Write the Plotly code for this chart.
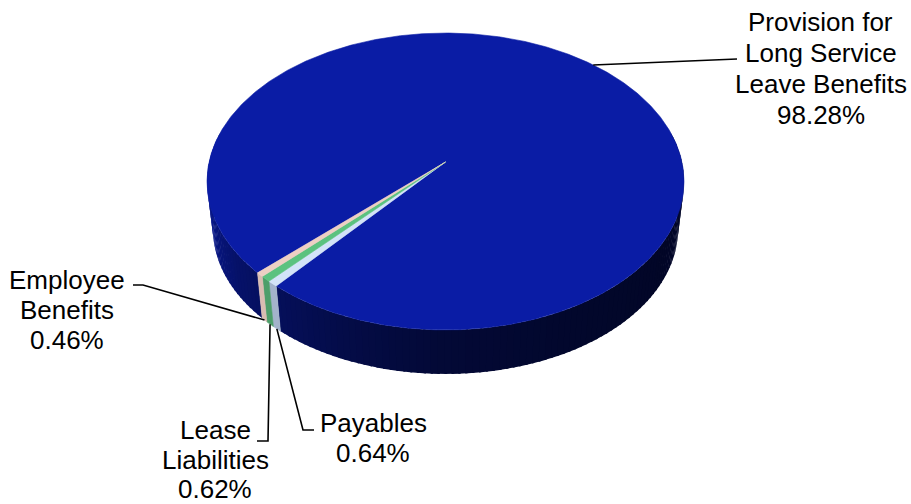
import numpy as np
import plotly.graph_objects as go

# ---------------- data ----------------
categories = ["Provision for Long Service Leave Benefits", "Payables",
              "Lease Liabilities", "Employee Benefits"]
label_lines = [["Provision for", "Long Service", "Leave Benefits"],
               ["Payables"],
               ["Lease", "Liabilities"],
               ["Employee", "Benefits"]]
values = [98.28, 0.64, 0.62, 0.46]

# ---------------- styles ----------------
top_colors = ["#0A1CA5", "#D3E3F8", "#5BC27F", "#EDCFC4"]
side_colors = [None, "#A3B3CB", "#4C9E6A", "#D8BCB2"]
FONT = "Liberation Sans, Arial, sans-serif"
FS = 26

# ---------------- geometry (pixel space) ----------------
CX, CY = 445.5, 162.0       # projected centre of the disc
A, B, K = 236.4, 145.9, 0.1313  # perspective ellipse parameters
S, YV = 0.975, 2090.0       # bottom face scale / vanishing point
START = 223.7               # start angle (deg, math convention), clockwise order


def proj_top(theta):
    t = np.radians(theta)
    u, v = np.cos(t), np.sin(t)
    w = 1 + K * v
    return CX + A * u / w, CY - B * v / w


def proj_bot(theta):
    x, y = proj_top(theta)
    return CX + S * (x - CX), YV + S * (y - YV)


def shade(theta):
    a = np.mod(theta - 170, 360) + 170
    f = np.interp(a, [170, 185, 200, 215, 235, 255, 270, 300, 330, 355, 370],
                  [0.95, 0.93, 0.78, 0.64, 0.52, 0.40, 0.33, 0.27, 0.24, 0.26, 0.27])
    r, g, b = 10, 28, 165
    return "rgb(%d,%d,%d)" % (r * f, g * f, b * f)


total = sum(values)
cum = np.concatenate([[0], np.cumsum(values)])
ranges = []  # CCW [lo, hi] for each slice
for i in range(len(values)):
    hi = START - cum[i] / total * 360
    lo = START - cum[i + 1] / total * 360
    ranges.append((lo, hi))

fig = go.Figure()


def poly(xs, ys, color, lw=0.8):
    fig.add_trace(go.Scatter(x=xs, y=ys, mode="lines", fill="toself",
                             fillcolor=color, line=dict(color=color, width=lw),
                             hoverinfo="skip", showlegend=False))


# ---- side walls ----
for i, (lo, hi) in enumerate(ranges):
    for shift in (-720, -360, 0, 360):
        a0 = max(lo + shift, 168)
        a1 = min(hi + shift, 372)
        if a1 <= a0:
            continue
        if i == 0:
            n = int(np.ceil((a1 - a0) / 1.5))
            edges = np.linspace(a0, a1, n + 1)
        else:
            edges = np.array([a0, a1])
        for j in range(len(edges) - 1):
            e0 = edges[j] - (0.5 if (i == 0 and j > 0) else 0)
            e1 = edges[j + 1]
            th = np.linspace(e0, e1, 4)
            tx, ty = proj_top(th)
            bx, by = proj_bot(th[::-1])
            col = shade((edges[j] + edges[j + 1]) / 2) if i == 0 else side_colors[i]
            poly(np.concatenate([tx, bx, tx[:1]]), np.concatenate([ty, by, ty[:1]]),
                 col, lw=0 if i == 0 else 0.6)

# ---- top faces ----
for i, (lo, hi) in enumerate(ranges):
    n = max(4, int((hi - lo) / 0.5))
    th = np.linspace(lo, hi, n)
    ax, ay = proj_top(th)
    xs = np.concatenate([[CX], ax, [CX]])
    ys = np.concatenate([[CY], ay, [CY]])
    poly(xs, ys, top_colors[i], lw=0.6)

# ---------------- labels & leaders ----------------
mid = [(lo + hi) / 2 for lo, hi in ranges]
anchors = [proj_top(mid[0])] + [proj_bot(m) for m in mid[1:]]

leader_paths = [
    [(737, 59)],
    [(303, 430), (314, 430)],
    [(268, 441), (257, 441)],
    [(143, 285), (133, 285)],
]
label_x = [820.5, 373, 215, 67]
label_y0 = [22, 423, 430, 280]
line_gap = [31.1, 29.5, 29.5, 30]

for i in range(len(values)):
    ax0, ay0 = anchors[i]
    pts = [(ax0, ay0)] + leader_paths[i]
    fig.add_trace(go.Scatter(x=[p[0] for p in pts], y=[p[1] for p in pts],
                             mode="lines", line=dict(color="black", width=1.6),
                             hoverinfo="skip", showlegend=False))
    lines = label_lines[i] + ["%.2f%%" % values[i]]
    for j, txt in enumerate(lines):
        fig.add_annotation(x=label_x[i], y=label_y0[i] + j * line_gap[i],
                           xref="x", yref="y", text=txt, showarrow=False,
                           xanchor="center", yanchor="middle",
                           font=dict(family=FONT, size=FS, color="black"))

fig.update_layout(
    width=911, height=504,
    margin=dict(l=0, r=0, t=0, b=0),
    paper_bgcolor="white", plot_bgcolor="white",
    showlegend=False,
    xaxis=dict(range=[0, 911], visible=False, fixedrange=True),
    yaxis=dict(range=[504, 0], visible=False, fixedrange=True),
)

fig.write_html("out.html",
               config={"displayModeBar": False, "staticPlot": True},
               post_script="document.body.style.margin='0px';"
                           "document.body.style.overflow='hidden';")
